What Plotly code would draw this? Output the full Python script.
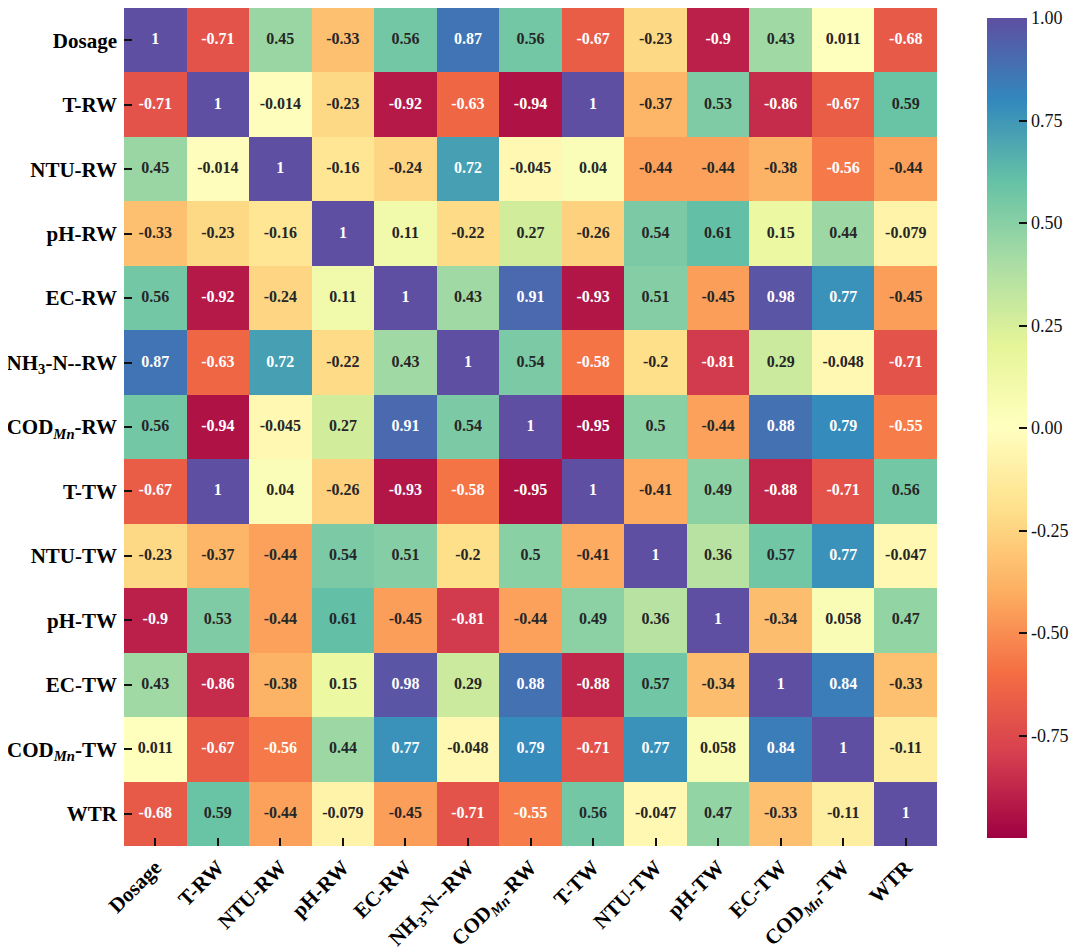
import numpy as np
import plotly.graph_objects as go

# variable names (html for the subscripts)
labels = ["Dosage", "T-RW", "NTU-RW", "pH-RW", "EC-RW", "NH<sub>3</sub>-N--RW",
          "COD<sub><i>Mn</i></sub>-RW", "T-TW", "NTU-TW", "pH-TW", "EC-TW",
          "COD<sub><i>Mn</i></sub>-TW", "WTR"]

# correlation rows
dosage  = [1, -0.71, 0.45, -0.33, 0.56, 0.87, 0.56, -0.67, -0.23, -0.9, 0.43, 0.011, -0.68]
t_rw    = [-0.71, 1, -0.014, -0.23, -0.92, -0.63, -0.94, 1, -0.37, 0.53, -0.86, -0.67, 0.59]
ntu_rw  = [0.45, -0.014, 1, -0.16, -0.24, 0.72, -0.045, 0.04, -0.44, -0.44, -0.38, -0.56, -0.44]
ph_rw   = [-0.33, -0.23, -0.16, 1, 0.11, -0.22, 0.27, -0.26, 0.54, 0.61, 0.15, 0.44, -0.079]
ec_rw   = [0.56, -0.92, -0.24, 0.11, 1, 0.43, 0.91, -0.93, 0.51, -0.45, 0.98, 0.77, -0.45]
nh3_rw  = [0.87, -0.63, 0.72, -0.22, 0.43, 1, 0.54, -0.58, -0.2, -0.81, 0.29, -0.048, -0.71]
cod_rw  = [0.56, -0.94, -0.045, 0.27, 0.91, 0.54, 1, -0.95, 0.5, -0.44, 0.88, 0.79, -0.55]
t_tw    = [-0.67, 1, 0.04, -0.26, -0.93, -0.58, -0.95, 1, -0.41, 0.49, -0.88, -0.71, 0.56]
ntu_tw  = [-0.23, -0.37, -0.44, 0.54, 0.51, -0.2, 0.5, -0.41, 1, 0.36, 0.57, 0.77, -0.047]
ph_tw   = [-0.9, 0.53, -0.44, 0.61, -0.45, -0.81, -0.44, 0.49, 0.36, 1, -0.34, 0.058, 0.47]
ec_tw   = [0.43, -0.86, -0.38, 0.15, 0.98, 0.29, 0.88, -0.88, 0.57, -0.34, 1, 0.84, -0.33]
cod_tw  = [0.011, -0.67, -0.56, 0.44, 0.77, -0.048, 0.79, -0.71, 0.77, 0.058, 0.84, 1, -0.11]
wtr     = [-0.68, 0.59, -0.44, -0.079, -0.45, -0.71, -0.55, 0.56, -0.047, 0.47, -0.33, -0.11, 1]

corr = np.array([dosage, t_rw, ntu_rw, ph_rw, ec_rw, nh3_rw, cod_rw,
                 t_tw, ntu_tw, ph_tw, ec_tw, cod_tw, wtr])

cbar_ticks = [-0.75, -0.5, -0.25, 0, 0.25, 0.5, 0.75, 1.0]

spectral = [(158, 1, 66), (213, 62, 79), (244, 109, 67), (253, 174, 97), (254, 224, 139),
            (255, 255, 191), (230, 245, 152), (171, 221, 164), (102, 194, 165),
            (50, 136, 189), (94, 79, 162)]
colorscale = [[i / 10, "rgb(%d,%d,%d)" % c] for i, c in enumerate(spectral)]
zmin, zmax = -1, 1
FONT = "Liberation Serif"


def text_color(v):
    # same idea as seaborn: dark text on light cells, white on dark ones
    t = (v - zmin) / (zmax - zmin)
    pos = np.linspace(0, 1, len(spectral))
    rgb = np.array([np.interp(t, pos, [c[k] for c in spectral]) for k in range(3)]) / 255
    lin = np.where(rgb <= 0.03928, rgb / 12.92, ((rgb + 0.055) / 1.055) ** 2.4)
    lum = 0.2126 * lin[0] + 0.7152 * lin[1] + 0.0722 * lin[2]
    return "#262626" if lum > 0.408 else "white"


xs, ys, txt, cols = [], [], [], []
for i, row in enumerate(labels):
    for j, col in enumerate(labels):
        xs.append(col)
        ys.append(row)
        txt.append("{:.2g}".format(corr[i, j]))
        cols.append(text_color(corr[i, j]))

fig = go.Figure()
fig.add_trace(go.Heatmap(
    z=corr, x=labels, y=labels, colorscale=colorscale, zmin=zmin, zmax=zmax,
    hoverinfo="skip",
    colorbar=dict(
        thickness=40, len=820 / 838, lenmode="fraction", y=0.4988, yanchor="middle",
        x=1 + 50 / 813, xanchor="left", xpad=0, ypad=0, outlinewidth=0,
        tickvals=cbar_ticks, ticktext=["%.2f" % t for t in cbar_ticks],
        ticks="inside", ticklen=8, tickwidth=2, tickcolor="#111",
        tickfont=dict(family=FONT, size=18, color="#111"),
    ),
))
fig.add_trace(go.Scatter(
    x=xs, y=ys, mode="text", text=txt, hoverinfo="skip", showlegend=False,
    textfont=dict(family=FONT, size=16, color=cols, weight="bold"),
))

# page body has an 8px margin, so the figure is drawn 8px in from the corner
fig.update_layout(
    width=1072, height=944,
    margin=dict(l=116, r=143, t=0, b=106),
    paper_bgcolor="white", plot_bgcolor="white",
    showlegend=False,
)
axis_style = dict(
    ticks="inside", ticklen=8, tickwidth=2, tickcolor="#111",
    tickfont=dict(family=FONT, size=21, color="black", weight="bold"),
    showgrid=False, zeroline=False, showline=False, automargin=False,
)
fig.update_xaxes(tickangle=-45, range=[-0.5, 12.5], ticklabelstandoff=4, **axis_style)
fig.update_yaxes(range=[12.5, -0.5], ticklabelstandoff=6, **axis_style)

fig.write_html("out.html")
